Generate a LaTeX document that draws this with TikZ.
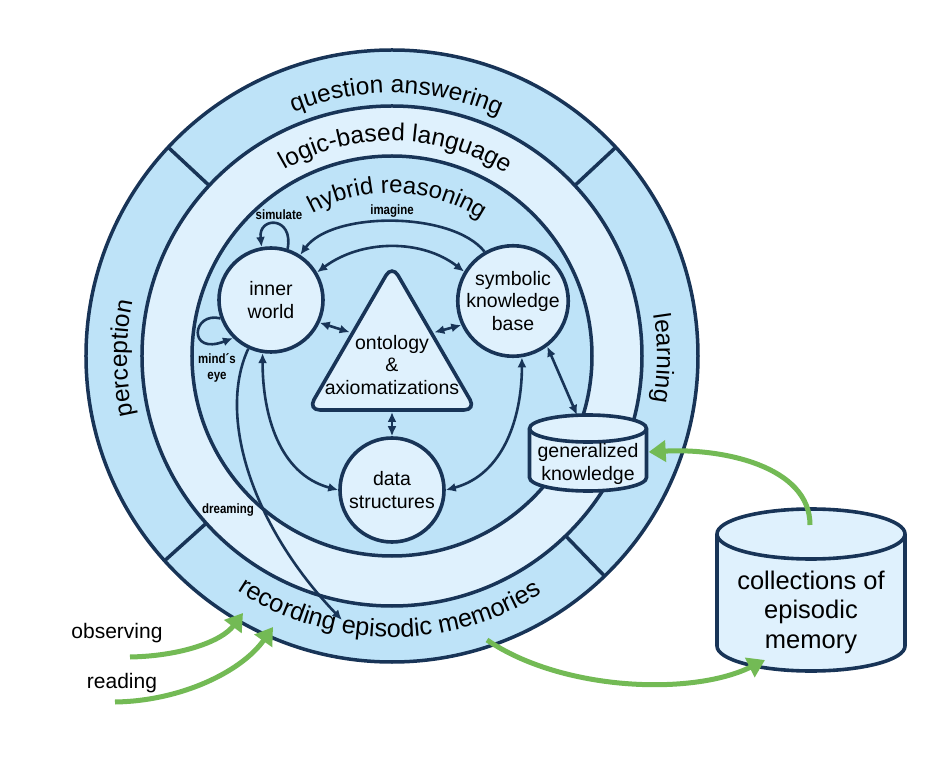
\documentclass[tikz,border=0pt]{standalone}
\usepackage{fontspec}
\setmainfont{Liberation Sans}
\newfontfamily\condfont[FakeStretch=0.85]{Liberation Sans}
\usetikzlibrary{positioning, calc, arrows.meta, decorations.text}
\definecolor{navy}{RGB}{24,52,87}
\definecolor{bandblue}{RGB}{190,227,248}
\definecolor{paleblue}{RGB}{223,241,253}
\definecolor{leafgreen}{RGB}{115,186,85}
\newcommand{\bandfont}{\fontsize{24.5}{28}\selectfont}
\newcommand{\nodefont}{\fontsize{19.5}{22.5}\selectfont}
\newcommand{\collfont}{\fontsize{25.5}{29.5}\selectfont}
\newcommand{\sidefont}{\fontsize{21}{24}\selectfont}
\newcommand{\tagfont}{\condfont\bfseries\fontsize{13.5}{16.5}\selectfont}
\tikzset{
  ring/.style={draw=navy, line width=3.5pt},
  world/.style={circle, draw=navy, line width=3.6pt, fill=paleblue, minimum size=104pt, inner sep=0pt, align=center, font=\nodefont},
  store/.style={draw=navy, line width=3.6pt, fill=paleblue},
  link/.style={draw=navy, line width=2.6pt, -{Latex[length=10pt,width=9pt]}},
  dlink/.style={link, {Latex[length=10pt,width=9pt]}-{Latex[length=10pt,width=9pt]}},
  feed/.style={draw=leafgreen, line width=5pt, -{Triangle[length=17pt,width=21pt]}},
  tag/.style={font=\tagfont, align=center},
  bandlabel/.style={decorate, decoration={text along path, text align=center, text={|\bandfont|#1}}},
}
\begin{document}
\begin{tikzpicture}[x=1pt, y=1pt]
\useasboundingbox (-392,-409) rectangle (553,356);
% rings
\filldraw[ring, fill=bandblue] (0,0) circle[radius=306pt];
\filldraw[ring, fill=paleblue] (0,0) circle[radius=250pt];
\filldraw[ring, fill=bandblue] (0,0) circle[radius=200pt];
\foreach \a in {43,137,222,314}
  \draw[ring] (\a:250pt) -- (\a:306pt);
% ring labels
\path[bandlabel={question answering}] (159:263pt) arc[start angle=159, end angle=19, radius=263pt];
\path[bandlabel={logic-based language}] (164:215pt) arc[start angle=164, end angle=14, radius=215pt];
\path[decorate, decoration={text along path, text align=center, text={|\fontsize{24}{28}\selectfont|hybrid reasoning}}]
  (168:163pt) arc[start angle=168, end angle=8, radius=163pt];
\path[bandlabel={perception}] (210:265pt) arc[start angle=210, end angle=151, radius=265pt];
\path[bandlabel={learning}] (29:265pt) arc[start angle=29, end angle=-30, radius=265pt];
\path[decorate, decoration={text along path, text align=center, text={|\fontsize{25.2}{29}\selectfont|recording episodic memories}}]
  (205:281pt) arc[start angle=205, end angle=334, radius=281pt];
% inner parts
\node[world] (inner) at (-121,56) {inner\\world};
\node[world] (symb) at (121,55) {symbolic\\knowledge\\base};
\node[world] (data) at (0,-134) {data\\structures};
\coordinate (tritop) at (0,91);
\coordinate (trileft) at (-84,-54);
\coordinate (triright) at (84,-54);
\filldraw[draw=navy, line width=3.6pt, fill=paleblue, rounded corners=12pt] (tritop) -- (triright) -- (trileft) -- cycle;
\node[font=\nodefont, align=center] (onto) at (0,-9) {ontology\\\&\\axiomatizations};
% generalized knowledge store
\filldraw[store] (137.5,-72.5) -- (137.5,-121.5) arc[start angle=180, end angle=360, x radius=58.5, y radius=13.5]
  -- (254.5,-72.5) arc[start angle=0, end angle=180, x radius=58.5, y radius=13.5] -- cycle;
\draw[store, fill=none] (137.5,-72.5) arc[start angle=180, end angle=360, x radius=58.5, y radius=13.5];
\node[font=\nodefont, align=center, minimum width=117pt, inner sep=0pt] (genk) at (196,-108) {generalized\\knowledge};
% episodic memory store
\filldraw[store] (325,-178) -- (325,-290) arc[start angle=180, end angle=360, x radius=94, y radius=25]
  -- (513,-178) arc[start angle=0, end angle=180, x radius=94, y radius=25] -- cycle;
\draw[store, fill=none] (325,-178) arc[start angle=180, end angle=360, x radius=94, y radius=25];
\node[font=\collfont, align=center] (coll) at (419,-256) {collections of\\episodic\\memory};
% labels
\node[tag] (simlab) at (-113,141) {simulate};
\node[tag] (imaglab) at (0,145) {imagine};
\node[tag] (mindlab) at (-175,-12) {mind´s\\eye};
\node[tag] (dreamlab) at (-164,-154) {dreaming};
% reasoning links
\draw[link] (symb.120) .. controls (60,145) and (-60,145) .. (inner.57);
\draw[dlink] (inner.31) .. controls (-30,117) and (30,117) .. (symb.149);
\draw[dlink, shorten >=3pt] (inner.-25) -- ($(tritop)!0.47!(trileft)$);
\draw[dlink, shorten >=3pt] (symb.205) -- ($(tritop)!0.47!(triright)$);
\draw[dlink, shorten <=2pt] ($(trileft)!0.5!(triright)$) -- (data.north);
\draw[dlink] (inner.-99) to[out=-90, in=165] (data.west);
\draw[dlink] (symb.-81) to[out=-90, in=15] (data.east);
\draw[dlink] (symb.-53) -- ($(genk.center)+(-11,49)$);
\draw[link] (inner.72) .. controls (-98,140) and (-134,140) .. (inner.100);
\draw[link] (inner.200) .. controls (-200,45) and (-205,0) .. (inner.225);
\coordinate (dreamend) at (-50,-264);
\draw[link] (inner.-115) .. controls (-175,-60) and (-140,-170) .. (dreamend);
% inputs and memory
\node[font=\sidefont] (obs) at (-275,-277) {observing};
\node[font=\sidefont] (read) at (-270,-327) {reading};
\coordinate (obsend) at (-149,-257);
\coordinate (readend) at (-119,-271);
\coordinate (recout) at (95,-284);
\draw[feed] ($(obs.center)+(13,-24)$) .. controls (-210,-300) and (-170,-285) .. (obsend);
\draw[feed] ($(read.center)+(-7,-19)$) .. controls (-210,-345) and (-150,-315) .. (readend);
\draw[feed] (recout) .. controls (170,-335) and (300,-340) .. ($(coll.center)+(-46,-48)$);
\draw[feed] ($(coll.center)+(-1,87)$) .. controls (418,-110) and (330,-92) .. ($(genk.east)+(2,12)$);
\end{tikzpicture}
\end{document}
